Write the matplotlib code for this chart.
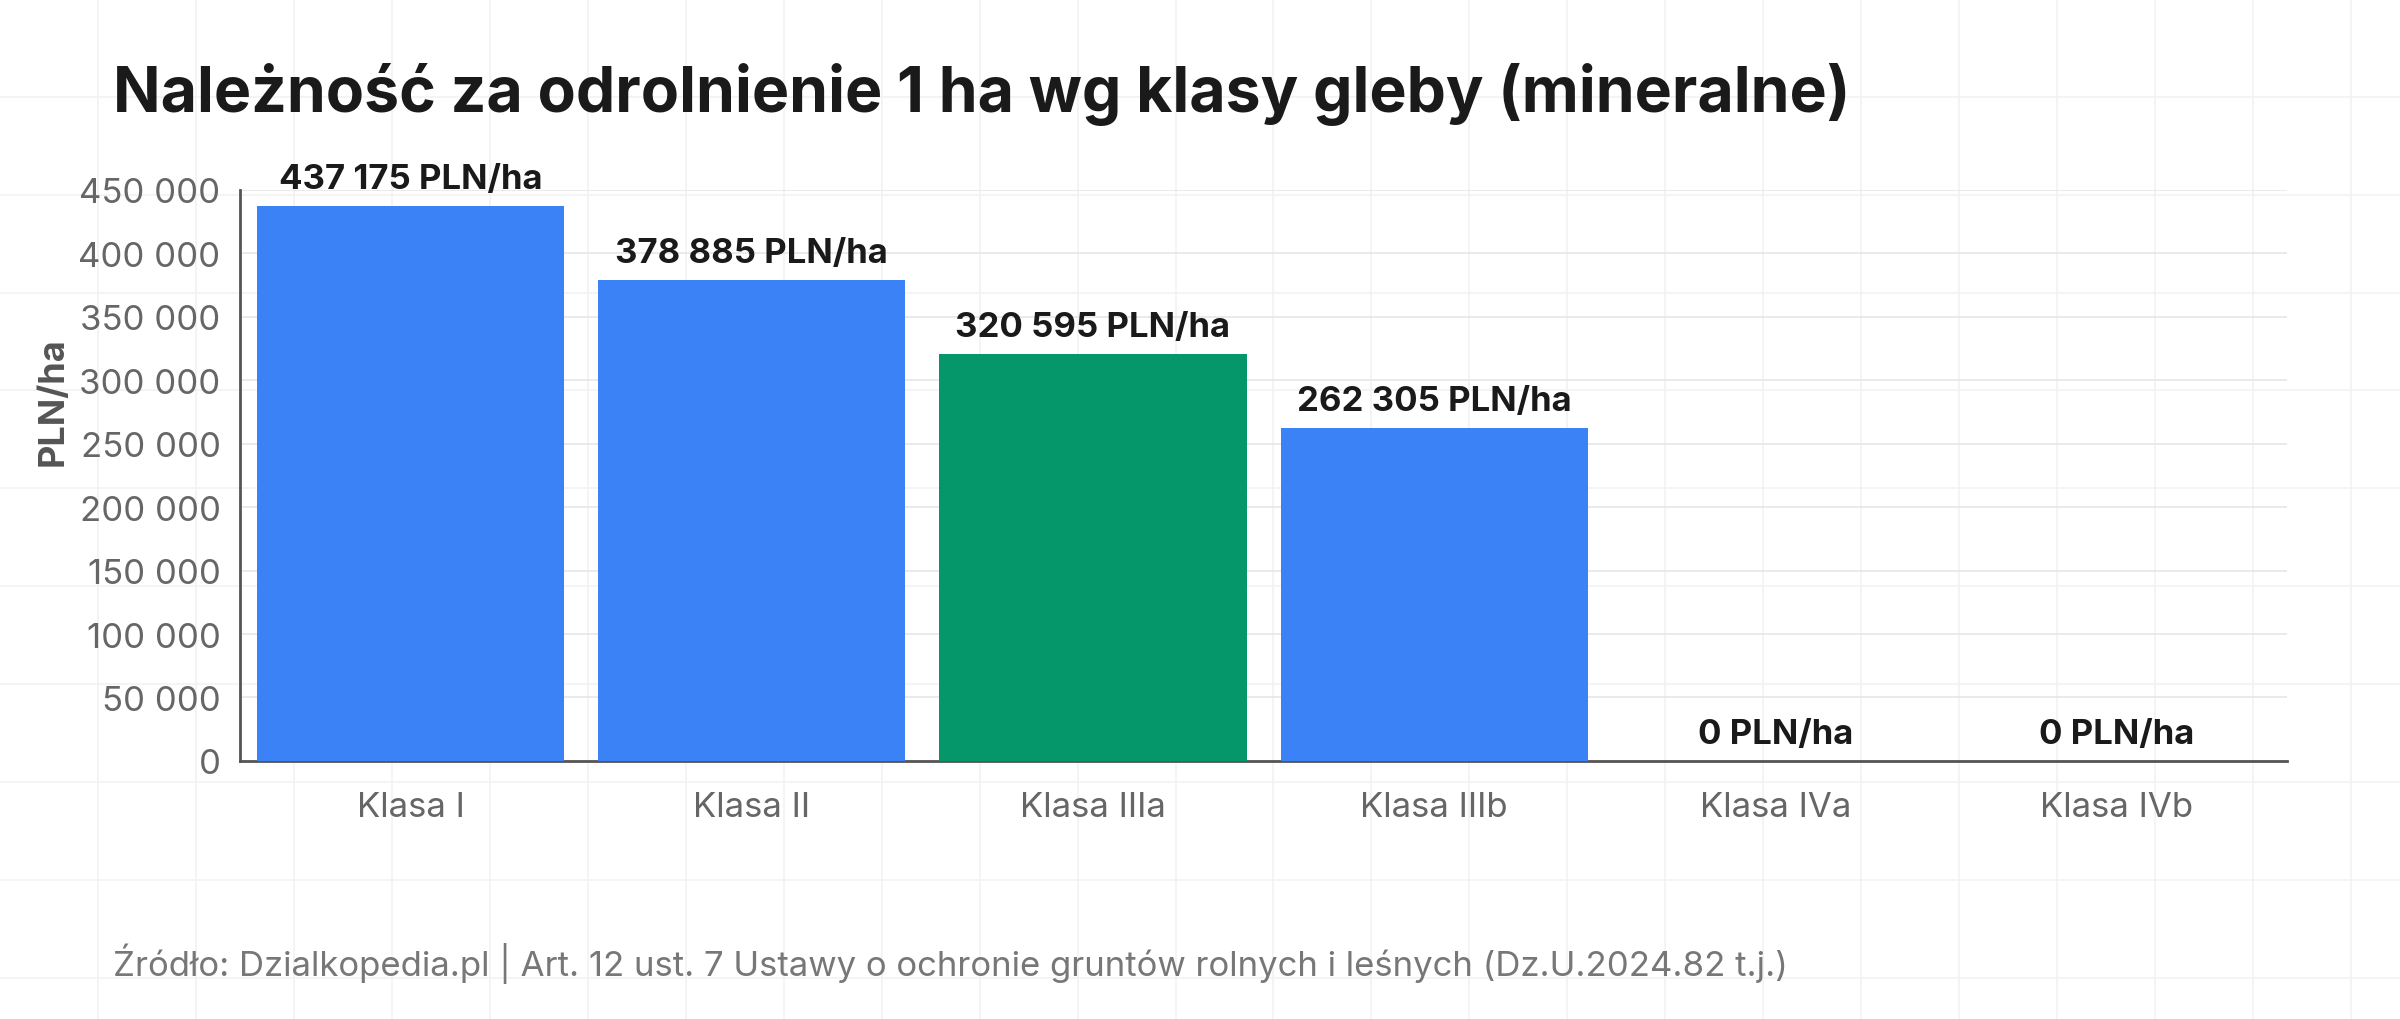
import matplotlib
matplotlib.use('Agg')
import matplotlib.pyplot as plt

plt.rcParams['font.family'] = ['Inter', 'DejaVu Sans']

# data
klasy = ['Klasa I', 'Klasa II', 'Klasa IIIa', 'Klasa IIIb', 'Klasa IVa', 'Klasa IVb']
wartosci = [437175, 378885, 320595, 262305, 0, 0]
kolory = ['#3b82f6', '#3b82f6', '#059669', '#3b82f6', '#3b82f6', '#3b82f6']
yticks = [0, 50000, 100000, 150000, 200000, 250000, 300000, 350000, 400000, 450000]

def fmt(v):
    return '{:,}'.format(v).replace(',', ' ')

fig = plt.figure(figsize=(24, 10.2), dpi=100)
fig.patch.set_facecolor('white')

# faint background grid
bg = fig.add_axes([0, 0, 1, 1], zorder=-1)
bg.set_xlim(0, 1568)
bg.set_ylim(667, 0)
for x in range(64, 1568, 64):
    bg.axvline(x, color='#f2f2f2', lw=1.2)
for y in range(64, 667, 64):
    bg.axhline(y, color='#f2f2f2', lw=1.2)
bg.axis('off')

ax = fig.add_axes([0.100, 0.253, 0.853, 0.560])
ax.set_facecolor('none')
ax.bar(range(len(klasy)), wartosci, width=0.9, color=kolory, zorder=3)
for i, v in enumerate(wartosci):
    ax.text(i, v + 9000, fmt(v) + ' PLN/ha', ha='center', va='bottom',
            fontsize=25, fontweight='bold', color='#1a1a1a')

ax.set_xlim(-0.5, 5.5)
ax.set_ylim(0, 450000)
ax.set_yticks(yticks)
ax.set_yticklabels([fmt(t) for t in yticks])
ax.set_xticks(range(len(klasy)))
ax.set_xticklabels(klasy)
ax.tick_params(axis='both', labelsize=25, colors='#666666', length=0, pad=14)
ax.tick_params(axis='x', pad=22)
ax.grid(axis='y', color='#e6e6e6', lw=1.2, zorder=0)
for s in ['top', 'right']:
    ax.spines[s].set_visible(False)
ax.spines['left'].set_color('#555555')
ax.spines['bottom'].set_color('#555555')
ax.spines['left'].set_linewidth(2)
ax.spines['bottom'].set_linewidth(2)
ax.set_ylabel('PLN/ha', fontsize=26, fontweight='bold', color='#555555')
ax.yaxis.set_label_coords(-0.083, 0.63)

fig.text(0.047, 0.907, 'Należność za odrolnienie 1 ha wg klasy gleby (mineralne)',
         fontsize=45, fontweight='bold', color='#1a1a1a', va='center')
fig.text(0.047, 0.055, 'Źródło: Dzialkopedia.pl | Art. 12 ust. 7 Ustawy o ochronie gruntów rolnych i leśnych (Dz.U.2024.82 t.j.)',
         fontsize=25, color='#777777', va='center')

fig.savefig('out.png', dpi=100)
